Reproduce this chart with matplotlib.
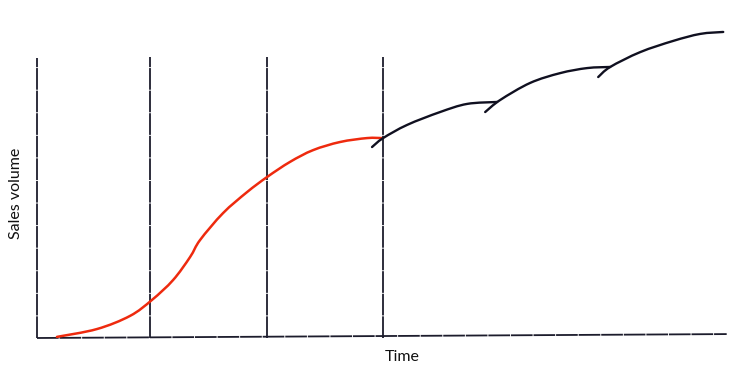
import matplotlib
matplotlib.use("Agg")
import numpy as np
from matplotlib import pyplot as plt
from matplotlib.path import Path
from matplotlib.patches import PathPatch

# product life cycle: time in stage units, sales volume in % of axis height
red_t = [0.173, 0.52, 0.807, 0.997, 1.18, 1.327, 1.414, 1.613, 1.821, 1.995,
         2.194, 2.394, 2.628, 2.862, 2.992]
red_s = [0.4, 3.2, 7.9, 13.6, 20.7, 28.9, 35.0, 44.6, 52.1, 57.5,
         62.9, 67.1, 70.0, 71.4, 71.4]

# extension strategies (relaunches)
ext1_t = [2.905, 3.001, 3.209, 3.495, 3.729, 3.99]
ext1_s = [68.2, 71.4, 76.1, 80.7, 83.6, 84.3]
ext2_t = [3.886, 4.016, 4.276, 4.536, 4.77, 4.97]
ext2_s = [80.7, 85.0, 91.1, 94.6, 96.4, 96.8]
ext3_t = [4.866, 4.97, 5.23, 5.516, 5.75, 5.95]
ext3_s = [93.2, 96.8, 102.1, 106.1, 108.6, 109.3]

stage_bounds = [0.98, 1.99, 3.0]
axis_top = 100
base_t = [0, 5.98]
base_s = [0, 1.4]


def smooth_path(ax, xs, ys):
    """catmull-rom through the points, drawn as cubic bezier segments in display space"""
    pts = ax.transData.transform(np.column_stack([xs, ys]))
    verts = [pts[0]]
    codes = [Path.MOVETO]
    n = len(pts)
    for i in range(n - 1):
        p0 = pts[max(i - 1, 0)]
        p1 = pts[i]
        p2 = pts[i + 1]
        p3 = pts[min(i + 2, n - 1)]
        verts += [p1 + (p2 - p0) / 6, p2 - (p3 - p1) / 6, p2]
        codes += [Path.CURVE4] * 3
    return Path(verts, codes)


fig = plt.figure(figsize=(7.51, 3.75), dpi=100)
ax = fig.add_axes([37 / 751, 37 / 375, 692 / 751, 336 / 375])
ax.set_xlim(0, 6)
ax.set_ylim(0, 120)
ax.axis("off")

# scanned axes: nearly solid with tiny breaks
axis_kw = dict(color="#1c1c2c", lw=1.3, ls=(0, (12, 0.5)), clip_on=False)
ax.plot([0, 0], [0, axis_top], **axis_kw)
ax.plot(base_t, base_s, **axis_kw)
for b in stage_bounds:
    ax.plot([b, b], [0, axis_top + 0.4], **axis_kw)

curves = [(red_t, red_s, "#ee2a0e", 1.8, 3),
          (ext1_t, ext1_s, "#101020", 1.7, 4),
          (ext2_t, ext2_s, "#101020", 1.7, 4),
          (ext3_t, ext3_s, "#101020", 1.7, 4)]
for t, s, c, w, z in curves:
    patch = PathPatch(smooth_path(ax, t, s), transform=None, fill=False,
                      edgecolor=c, lw=w, capstyle="round", zorder=z)
    fig.add_artist(patch)

fig.text(16 / 751, 1 - 193 / 375, "Sales volume", rotation=90,
         ha="center", va="center", fontsize=11.5, family="Lato", color="#111111")
fig.text(402 / 751, 1 - 357 / 375, "Time", ha="center", va="center",
         fontsize=11.5, family="Lato", color="#111111")

fig.savefig("out.png", dpi=100, facecolor="white")
